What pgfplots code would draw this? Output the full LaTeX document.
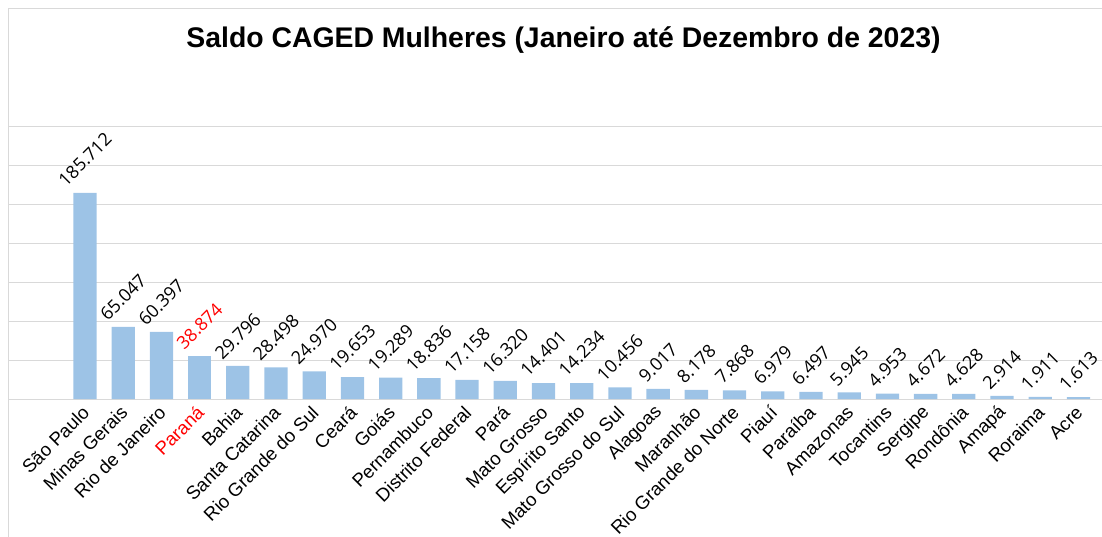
\documentclass[border=0pt]{standalone}
\usepackage{fontspec}
\setmainfont{Liberation Sans}
\newfontfamily\datafont{Open Sans}
\usepackage{graphicx}
\usepackage{pgfplots}
\usepackage{pgfplotstable}
\pgfplotsset{compat=1.18}
\definecolor{barblue}{RGB}{157,195,230}
\definecolor{gridgray}{RGB}{217,217,217}
\pgfplotstableread{
x y
0 185712
1 65047
2 60397
4 29796
5 28498
6 24970
7 19653
8 19289
9 18836
10 17158
11 16320
12 14401
13 14234
14 10456
15 9017
16 8178
17 7868
18 6979
19 6497
20 5945
21 4953
22 4672
23 4628
24 2914
25 1911
26 1613
}\datatable
\pgfplotstableread{
x y
3 38874
}\paranatable
\begin{document}
\begin{tikzpicture}
\useasboundingbox (0,0) rectangle (1102bp,537bp);
\draw[gridgray, line width=1bp] (8bp,0) -- (8bp,528bp) -- (1102bp,528bp);
\node[font=\bfseries\fontsize{28.5}{30}\selectfont] at (563.5bp,497bp) {Saldo CAGED Mulheres (Janeiro até Dezembro de 2023)};
\begin{axis}[
  at={(8bp,138bp)}, anchor=south west,
  scale only axis, width=1094bp, height=272bp,
  xmin=-2.015, xmax=26.616,
  ymin=0, ymax=245000,
  ytick distance=35000, scaled y ticks=false,
  ymajorgrids, grid style={gridgray, line width=1bp},
  axis line style={draw=none},
  yticklabels={}, ytick style={draw=none}, xtick style={draw=none},
  xtick={0,...,26},
  xticklabels={São Paulo, Minas Gerais, Rio de Janeiro, \textcolor{red}{Paraná}, Bahia, Santa Catarina, Rio Grande do Sul, Ceará, Goiás, Pernambuco, Distrito Federal, Pará, Mato Grosso, Espírito Santo, Mato Grosso do Sul, Alagoas, Maranhão, Rio Grande do Norte, Piauí, Paraíba, Amazonas, Tocantins, Sergipe, Rondônia, Amapá, Roraima, Acre},
  xticklabel style={xshift=1bp, yshift=-6bp, rotate=45, anchor=east, inner sep=0pt, font=\fontsize{18.7}{18.7}\selectfont},
  clip=false,
  ybar, bar width=23.3bp,
  nodes near coords={\rotatebox{45}{\pgfmathprintnumber[assume math mode=true,1000 sep={.},fixed,precision=0]{\pgfplotspointmeta}}},
  nodes near coords style={anchor=south, inner sep=0pt, yshift=5bp, font=\datafont\fontsize{18}{18}\selectfont},
]
\addplot[fill=barblue, draw=none, bar shift=0pt] table[x=x, y=y] {\datatable};
\addplot[fill=barblue, draw=none, bar shift=0pt, nodes near coords style={text=red}] table[x=x, y=y] {\paranatable};
\end{axis}
\end{tikzpicture}
\end{document}
